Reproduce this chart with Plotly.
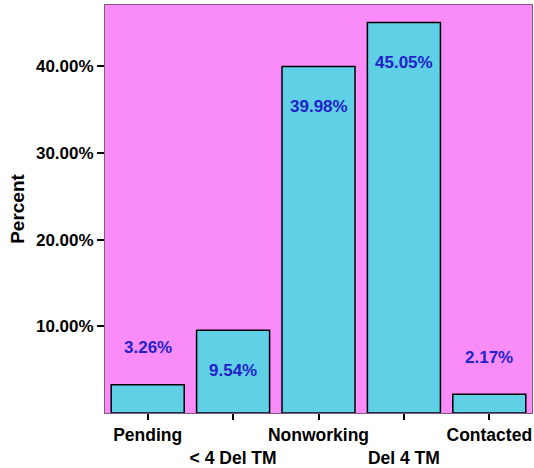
import plotly.graph_objects as go

categories = ["Pending", "< 4 Del TM", "Nonworking", "Del 4 TM", "Contacted"]
percents = [3.26, 9.54, 39.98, 45.05, 2.17]
y_ticks = [10, 20, 30, 40]
y_tick_labels = ["10.00%", "20.00%", "30.00%", "40.00%"]

FONT = "Liberation Sans, Arial, sans-serif"
idx = list(range(len(categories)))

# alternate tick labels on two rows
tick_text = [("" if i % 2 == 0 else "<br>") + "<b>" + c.replace("<", "&lt;") + "</b>"
             for i, c in enumerate(categories)]

fig = go.Figure()
fig.add_trace(go.Bar(
    x=idx, y=percents,
    marker=dict(color="#5fd0e6", line=dict(color="#000000", width=1.5)),
    width=0.855,
    hoverinfo="skip",
))

for i, v in enumerate(percents):
    fig.add_annotation(
        x=i, y=v, xref="x", yref="y",
        text="<b>%.2f%%</b>" % v,
        showarrow=False,
        yshift=-40 if v > 5 else 37,
        font=dict(family=FONT, size=17, color="#2222c8"),
    )

fig.update_layout(
    width=534, height=468,
    margin=dict(l=105, r=2, t=5, b=55),
    paper_bgcolor="#ffffff",
    plot_bgcolor="#f98cf9",
    showlegend=False,
    font=dict(family=FONT, size=16, color="#000000"),
    xaxis=dict(
        range=[-0.5, len(categories) - 0.5],
        tickmode="array", tickvals=idx, ticktext=tick_text,
        tickangle=0, automargin=False,
        ticks="outside", ticklen=6, tickwidth=2, tickcolor="#000000",
        showgrid=False, zeroline=False,
        showline=True, linecolor="#805880", linewidth=1, mirror=True,
        tickfont=dict(family=FONT, size=17.5, color="#000000"),
    ),
    yaxis=dict(
        range=[0, 47.06], automargin=False,
        tickmode="array", tickvals=y_ticks,
        ticktext=["<b>%s</b>" % t for t in y_tick_labels],
        ticks="outside", ticklen=7, tickwidth=2, tickcolor="#000000",
        showgrid=False, zeroline=False,
        showline=True, linecolor="#805880", linewidth=1, mirror=True,
        tickfont=dict(family=FONT, size=17, color="#000000"),
        title=dict(text="<b>Percent</b>", font=dict(family=FONT, size=19, color="#000000"),
                   standoff=6),
    ),
)

fig.write_html("out.html")
